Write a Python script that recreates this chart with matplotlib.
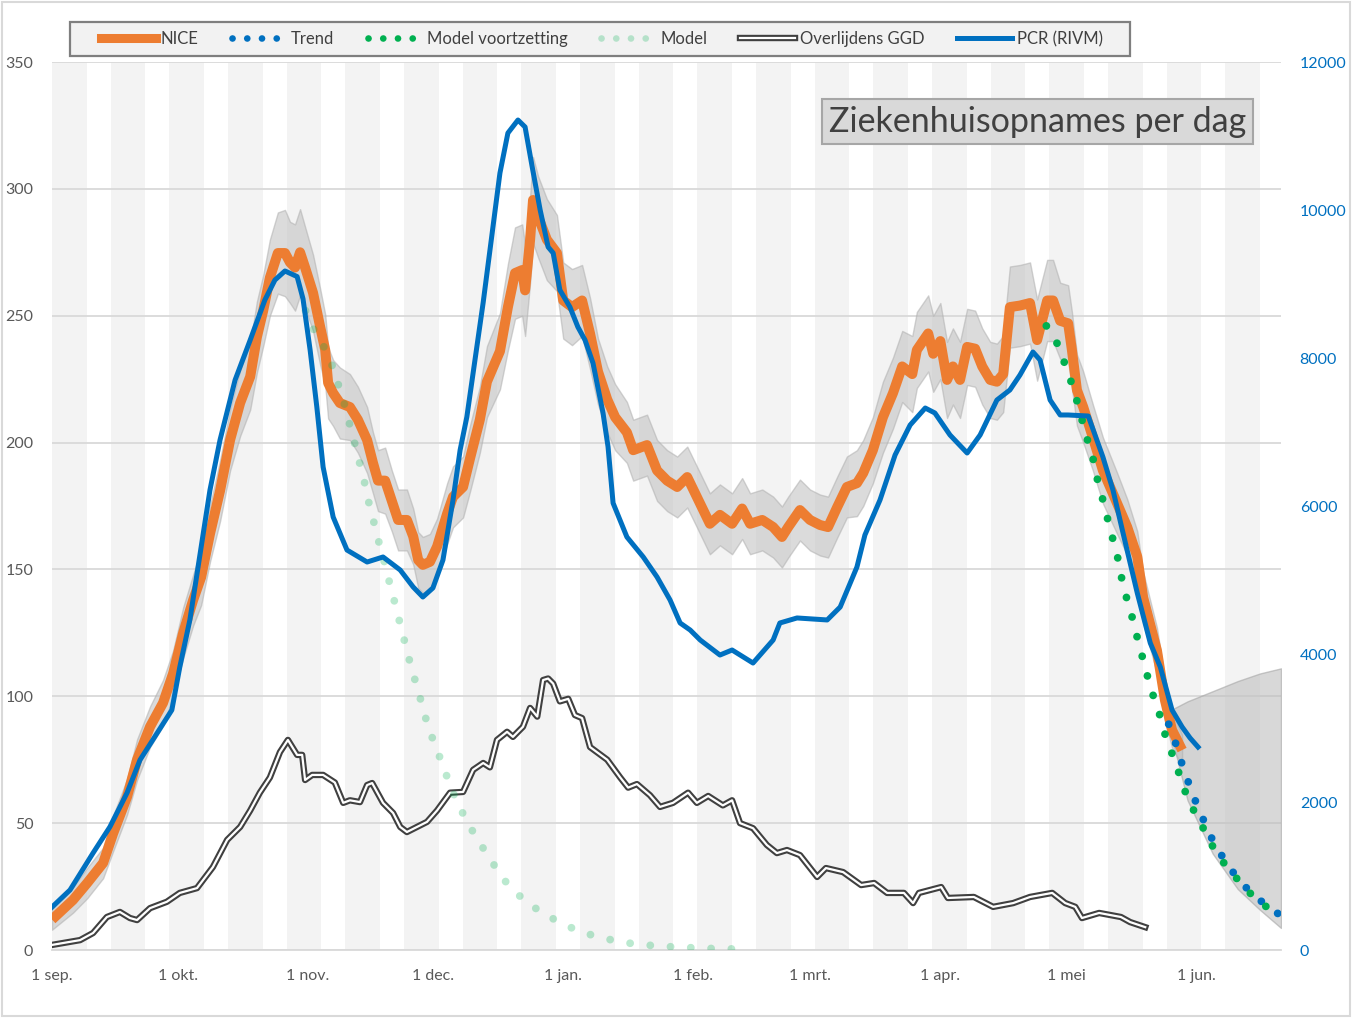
import matplotlib
matplotlib.use("Agg")
import matplotlib.pyplot as plt
from matplotlib.lines import Line2D
from matplotlib.patches import Rectangle
import numpy as np

plt.rcParams['font.family'] = ['Lato', 'DejaVu Sans']

# ---------------- data (days since 1 Sep 2020) ----------------
month_ticks = [0, 30, 61, 91, 122, 153, 181, 212, 242, 273]
month_labels = ['1 sep.', '1 okt.', '1 nov.', '1 dec.', '1 jan.', '1 feb.', '1 mrt.', '1 apr.', '1 mei', '1 jun.']
left_ticks = [0, 50, 100, 150, 200, 250, 300, 350]
right_ticks = [0, 2000, 4000, 6000, 8000, 10000, 12000]

nice_day = [0.0, 5.0, 8.4, 12.2, 14.6, 17.9, 20.3, 23.4, 26.5, 28.9,
            31.3, 33.7, 35.6, 37.7, 40.1, 42.5, 44.9, 47.3, 48.9, 50.4,
            52.0, 53.9, 55.6, 56.8, 58.0, 59.2, 60.4, 62.3, 64.0, 65.2,
            65.9, 67.1, 68.7, 71.1, 73.0, 75.2, 76.6, 77.8, 79.5, 81.1,
            82.6, 84.7, 86.2, 87.4, 88.5, 90.2, 91.9, 94.3, 95.7, 98.1,
            99.8, 102.1, 103.8, 106.9, 108.8, 110.5, 112.2, 112.9, 114.1, 114.8,
            116.0, 118.1, 120.5, 122.0, 124.1, 126.5, 128.4, 130.3, 132.5, 134.4,
            137.2, 138.7, 142.0, 144.4, 146.8, 149.2, 151.6, 153.9, 157.0, 159.4,
            162.3, 164.7, 166.6, 169.5, 172.1, 174.2, 175.7, 178.5, 180.9, 183.3,
            185.2, 187.4, 189.7, 192.1, 193.6, 195.9, 198.3, 200.7, 202.9, 205.3,
            206.4, 209.1, 210.3, 212.0, 213.6, 215.0, 216.7, 218.4, 220.3, 222.0,
            223.9, 225.5, 227.0, 228.6, 231.0, 233.4, 235.1, 237.5, 238.9, 240.6,
            242.5, 243.4, 244.6, 246.1, 248.4, 250.8, 254.2, 256.6, 259.0, 260.4,
            263.7, 265.6, 267.3, 269.7]
nice_val = [12, 19.7, 26.4, 34.3, 46, 60.3, 75, 88, 97.4, 109,
            125, 138, 147, 164, 181, 201, 215.6, 226, 241.6, 252,
            265, 274.7, 274.7, 271, 269, 275, 269, 259, 245.6, 236.5,
            223.5, 219.5, 215.6, 214, 209, 201, 192, 185, 185, 177,
            169.5, 169.5, 163, 153.7, 151.8, 153, 159, 172, 178.6, 182.5,
            194, 209, 224, 236, 253.4, 266.8, 268, 260, 280, 295.6,
            289, 280, 274.7, 256, 253.4, 256, 243, 228, 217, 210,
            204, 197, 199, 189, 185, 182.5, 186.4, 178.6, 168, 171.5,
            168, 174, 168, 169.5, 166.7, 162.8, 166.7, 173.4, 169.5, 167.5,
            166.7, 174.6, 182.5, 184, 188, 197, 210, 219.5, 230, 227,
            236.5, 243, 235, 240, 224.7, 230, 224.7, 237.7, 237, 230,
            224.7, 224, 227, 253.4, 254, 255, 240.4, 256, 256, 248,
            247, 236.5, 220.7, 214, 202, 189, 176, 166.7, 155, 139,
            118, 98.5, 86.7, 78.8]
nice_halfwidth = [4, 5, 6, 6, 7, 7, 8, 8, 9, 9,
                  10, 10, 11, 11, 12, 12, 13, 13, 14, 14,
                  15, 16, 17, 16, 17, 17, 16, 15, 15, 14,
                  14, 13, 14, 13, 13, 13, 12, 12, 13, 12,
                  12, 12, 11, 11, 11, 11, 11, 12, 12, 12,
                  13, 13, 14, 15, 17, 18, 18, 18, 17, 17,
                  16, 16, 15, 15, 15, 14, 14, 13, 13, 13,
                  12, 12, 12, 12, 12, 12, 12, 12, 12, 12,
                  12, 12, 12, 12, 12, 12, 12, 12, 12, 12,
                  12, 12, 12, 13, 13, 13, 14, 14, 14, 15,
                  15, 15, 15, 15, 15, 15, 15, 15, 15, 15,
                  15, 15, 15, 16, 16, 16, 16, 16, 16, 15,
                  15, 15, 14, 14, 13, 13, 12, 11, 10, 10,
                  9, 8, 7, 6]

pcr_day = [0.0, 4.3, 9.8, 13.8, 17.9, 21.0, 25.1, 28.6, 30.5, 32.9,
           37.7, 40.1, 43.7, 47.3, 50.8, 53.2, 55.6, 58.5, 59.9, 61.6,
           63.2, 64.7, 67.1, 70.4, 75.2, 79.0, 83.1, 86.2, 88.5, 90.9,
           93.3, 95.7, 97.4, 99.0, 102.9, 106.9, 108.8, 111.2, 112.9, 114.6,
           116.5, 118.4, 119.6, 121.2, 123.6, 125.5, 127.2, 129.1, 131.5, 132.7,
           133.9, 137.2, 141.1, 144.4, 147.5, 149.9, 152.3, 154.7, 159.4, 162.3,
           167.3, 172.1, 173.7, 177.8, 185.0, 188.1, 192.1, 194.0, 197.6, 201.2,
           204.8, 208.4, 210.7, 214.3, 218.4, 221.5, 225.5, 228.6, 231.0, 234.1,
           235.8, 238.2, 240.6, 242.5, 247.3, 250.8, 253.2, 255.6, 259.0, 262.1,
           264.5, 267.3, 269.7, 271.6, 273.5]
pcr_val = [580, 811, 1311, 1662, 2122, 2568, 2932, 3243, 3824, 4460,
           6216, 6892, 7703, 8243, 8784, 9054, 9176, 9100, 8800, 8108,
           7338, 6527, 5851, 5405, 5243, 5311, 5135, 4905, 4770, 4892,
           5270, 6081, 6757, 7203, 8750, 10500, 11040, 11216, 11122, 10581,
           10000, 9500, 9419, 8919, 8689, 8419, 8243, 7932, 7257, 6800,
           6040, 5581, 5311, 5040, 4730, 4419, 4324, 4189, 3986, 4054,
           3878, 4189, 4419, 4487, 4460, 4635, 5176, 5608, 6081, 6689,
           7095, 7324, 7257, 6960, 6716, 6960, 7432, 7568, 7770, 8081,
           7973, 7432, 7230, 7230, 7216, 6662, 6216, 5635, 4824, 4149,
           3824, 3243, 3014, 2865, 2743]

death_day = [0, 6.7, 9.8, 13.1, 16.2, 18.6, 20.3, 23.4, 27.4, 30.5,
             34.6, 38.4, 41.8, 44.9, 47.3, 49.6, 52.0, 54.4, 56.3, 58.5,
             59.7, 60.4, 62.1, 64.7, 67.5, 69.5, 71.1, 73.5, 75.2, 76.4,
             79.0, 81.4, 83.1, 84.7, 87.1, 89.5, 91.9, 95.0, 98.1, 100.5,
             102.9, 104.5, 106.2, 108.6, 110.0, 112.4, 114.1, 115.8, 117.2, 118.4,
             119.6, 121.2, 123.2, 124.8, 126.5, 128.4, 132.5, 135.6, 137.5, 139.6,
             142.7, 145.1, 148.2, 151.8, 153.9, 156.6, 160.1, 162.3, 164.2, 167.3,
             170.6, 173.0, 175.4, 178.5, 182.6, 184.7, 188.8, 193.1, 196.2, 199.3,
             203.3, 205.5, 206.9, 212.2, 213.8, 220.0, 224.6, 229.4, 233.4, 238.7,
             241.8, 244.2, 245.8, 249.9, 255.1, 257.3, 260.9]
death_val = [2, 3.9, 6.7, 13, 15, 12.6, 11.8, 16.5, 19, 22.5,
             24.4, 32.7, 43.4, 48.5, 55, 62, 68, 78, 82.8, 76.9,
             76.9, 67, 69, 69, 66, 58, 59, 58.3, 65, 65.8,
             58, 54, 48.5, 46.5, 48.5, 50.5, 55, 62, 62.3, 71,
             73.7, 72, 82.8, 86, 84, 88, 95.4, 92, 106.4, 107,
             105, 98, 99, 92.6, 91.4, 80, 75, 68, 64, 65.4,
             61, 56.4, 58, 62, 58, 60.7, 57, 59, 50, 48,
             41.4, 38.2, 39.4, 37.4, 28.8, 32.3, 30.7, 25.6, 26.4, 22.5,
             22.5, 18.5, 22.5, 24.8, 20.5, 20.9, 17, 18.5, 20.9, 22.5,
             18.5, 17, 12.6, 14.6, 13, 11, 9]

model_day = [60.5, 62.3, 64.9, 66.8, 68.3, 69.7, 70.9, 72.1, 73.3, 74.5,
             75.4, 76.6, 77.8, 79.0, 80.2, 81.4, 85.0, 86.2, 87.6, 88.8,
             90.2, 91.9, 93.6, 95.2, 97.1, 99.3, 101.7, 104.5, 106.9, 110.0,
             113.6, 117.4, 121.7, 126.0, 130.8, 135.3, 139.9, 144.6, 149.4, 154.2,
             159.0, 163.7]
model_val = [252, 245, 237.7, 230.6, 223, 215.6, 208, 200.6, 192.7, 185,
             177.7, 170, 162, 155, 147, 139.5, 116, 108.8, 101, 93.4,
             86, 78.8, 71.3, 64, 56.8, 50, 43, 36.3, 29.6, 23.6,
             18.5, 14.2, 10.5, 7.2, 5, 3.3, 2.2, 1.6, 1.1, 0.8,
             0.5, 0.4]

mv_day = [237.3, 239.9, 241.5, 243.2, 244.6, 245.8, 247.0, 248.4, 249.4, 250.6,
          251.8, 253.0, 254.2, 255.1, 256.1, 257.5, 258.7, 259.9, 261.1, 262.3,
          264.0, 265.2, 266.8, 268.5, 269.9, 271.8, 274.0, 276.1, 278.5, 281.6,
          284.7, 288.1, 292.1]
mv_val = [246, 239, 232, 224, 216.4, 209, 201.6, 194, 186, 178.6,
          170.7, 163, 155.7, 147.8, 140.7, 133, 125, 117.5, 110, 102.5,
          95, 87, 79.6, 72, 64.6, 57, 50.5, 43.4, 36.7, 30.4,
          24.4, 18.9, 14.6]

trend_day = [266.5, 267.3, 270.2, 273.5, 277.6, 282.8, 286.2, 289.7, 293.3]
trend_val = [89, 86, 70.5, 56, 41, 28.4, 22.5, 17.7, 13.5]

cone_day = [266.5, 267.5, 271.0, 277.0, 283.0, 288.3, 293.3]
cone_hi = [90, 95, 98, 102, 106, 109, 111]
cone_lo = [90, 82, 59, 38, 24, 15.8, 8.7]

# ---------------- styling ----------------
ORANGE = '#ED7D31'
BLUE = '#0070C0'
GREEN = '#00B050'
TXT = '#595959'

W, H = 1352, 1018
fig = plt.figure(figsize=(W / 100, H / 100), dpi=100)
fig.patch.set_facecolor('white')
fig.patches.append(Rectangle((2 / W, 2 / H), 1 - 4 / W, 1 - 4 / H, transform=fig.transFigure,
                             fill=False, ec='#d9d9d9', lw=1.5, zorder=-1))

ax = fig.add_axes([52 / W, 1 - 950 / H, (1281 - 52) / W, (950 - 62) / H])
ax.set_xlim(0, 293.3)
ax.set_ylim(0, 350)

# alternating two-week background stripes
for start in np.arange(0, 294, 14):
    ax.axvspan(start, start + 8.3, color='#f3f3f3', lw=0, zorder=0)

ax.set_axisbelow(True)
ax.yaxis.grid(True, color='#d9d9d9', lw=1.3)
ax.set_yticks(left_ticks)
ax.set_xticks(month_ticks)
ax.set_xticklabels(month_labels)
ax.tick_params(axis='y', length=0, pad=13.5, labelsize=11.5, labelcolor=TXT)
ax.tick_params(axis='x', length=0, pad=14, labelsize=11.5, labelcolor=TXT)
for s in ['top', 'left', 'right']:
    ax.spines[s].set_visible(False)
ax.spines['bottom'].set_color('#d9d9d9')
ax.spines['bottom'].set_linewidth(1.3)

# forecast cone
ax.fill_between(cone_day, cone_lo, cone_hi, facecolor='#bfbfbf', alpha=0.6,
                edgecolor='#a6a6a6', lw=1.0, zorder=1)

# NICE uncertainty band
nd = np.array(nice_day)
nv = np.array(nice_val)
hw = np.array(nice_halfwidth)
ax.fill_between(nd, nv - hw, nv + hw, facecolor='#bfbfbf', alpha=0.55,
                edgecolor='#b0b0b0', lw=1.0, zorder=2)
ax.plot(nd, nv, color=ORANGE, lw=7.2, solid_joinstyle='round', solid_capstyle='butt', zorder=3)

# deaths double line
ax.plot(death_day, death_val, color='#404040', lw=4.6, solid_joinstyle='round', zorder=3)
ax.plot(death_day, death_val, color='white', lw=1.6, solid_joinstyle='round', zorder=3.1)

dot_style = (0, (0.01, 2.6))
ax.plot(model_day, model_val, color=GREEN, alpha=0.27, lw=5.6, linestyle=dot_style,
        dash_capstyle='round', zorder=4)
ax.plot(mv_day, mv_val, color=GREEN, lw=5.6, linestyle=dot_style,
        dash_capstyle='round', zorder=4.5)
ax.plot(trend_day, trend_val, color=BLUE, lw=5.6, linestyle=dot_style,
        dash_capstyle='round', zorder=4.4)

# right axis: PCR
ax2 = ax.twinx()
ax2.set_ylim(0, 12000)
ax2.set_yticks(right_ticks)
ax2.tick_params(axis='y', length=0, pad=13.5, labelsize=11.5, labelcolor=BLUE)
for s in ax2.spines.values():
    s.set_visible(False)
ax2.plot(pcr_day, pcr_val, color=BLUE, lw=3.6, solid_joinstyle='round', zorder=5)

# legend frame (drawn separately to match the wide box)
fig.patches.append(Rectangle((70 / W, 1 - 56 / H), (1130 - 70) / W, 34 / H, transform=fig.transFigure,
                             fc='#f2f2f2', ec='#7f7f7f', lw=1.6, zorder=1))
h_nice = Line2D([], [], color=ORANGE, lw=6.5)
h_trend = Line2D([], [], color=BLUE, lw=4.8, linestyle=(0, (0.01, 2.2)), dash_capstyle='round')
h_mv = Line2D([], [], color=GREEN, lw=4.8, linestyle=(0, (0.01, 2.2)), dash_capstyle='round')
h_model = Line2D([], [], color=GREEN, alpha=0.25, lw=4.8, linestyle=(0, (0.01, 2.2)), dash_capstyle='round')
h_death = (Line2D([], [], color='#404040', lw=4.6), Line2D([], [], color='white', lw=1.6))
h_pcr = Line2D([], [], color=BLUE, lw=3.6)
leg = fig.legend([h_nice, h_trend, h_mv, h_model, h_death, h_pcr],
                 ['NICE', 'Trend', 'Model voortzetting', 'Model', 'Overlijdens GGD', 'PCR (RIVM)'],
                 loc='center', bbox_to_anchor=(602 / W, 1 - 39 / H), ncol=6,
                 fontsize=12, frameon=False, handlelength=3.3, handletextpad=0.25,
                 columnspacing=2.0, borderpad=0.5)
for t in leg.get_texts():
    t.set_color('#404040')

# title box
fig.text(1037.5 / W, 1 - 121.5 / H, 'Ziekenhuisopnames per dag', ha='center', va='center',
         fontsize=24.5, color='#404040',
         bbox=dict(boxstyle='square,pad=0.2', fc='#d9d9d9', ec='#a6a6a6', lw=1.5))

fig.savefig('out.png', dpi=100)
